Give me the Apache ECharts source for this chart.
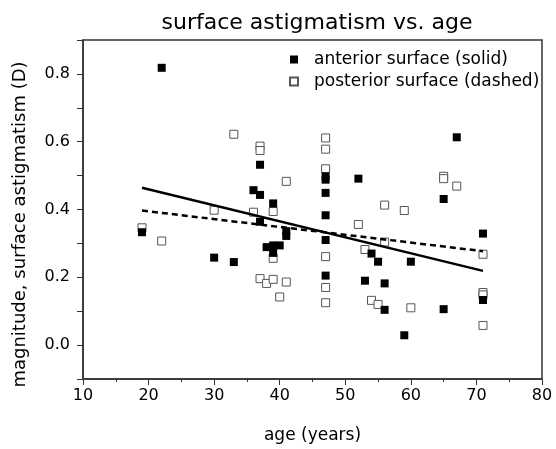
<!DOCTYPE html>
<html>
<head>
<meta charset="utf-8">
<script src="https://cdn.jsdelivr.net/npm/echarts@6/dist/echarts.min.js"></script>
<style>
  html, body { margin: 0; padding: 0; background: #fff; }
  #chart { width: 556px; height: 449px; }
</style>
</head>
<body>
<div id="chart"></div>
<script>
// 前表面（实心方块）: [年龄, 散光幅度]
const anterior = [
    [19, 0.333], [22, 0.818], [30, 0.258], [33, 0.245], [36, 0.457], [37, 0.532],
    [37, 0.443], [37, 0.364], [38, 0.289], [39, 0.418], [39, 0.294], [39, 0.272],
    [40, 0.294], [41, 0.336], [41, 0.322], [47, 0.498], [47, 0.488], [47, 0.449],
    [47, 0.383], [47, 0.31], [47, 0.205], [52, 0.491], [53, 0.19], [54, 0.27],
    [55, 0.246], [56, 0.182], [56, 0.104], [59, 0.029], [60, 0.246], [65, 0.431],
    [65, 0.106], [67, 0.613], [71, 0.329], [71, 0.133]
];
// 后表面（空心方块）
const posterior = [
    [19, 0.346], [22, 0.307], [30, 0.398], [33, 0.622], [36, 0.392], [37, 0.587],
    [37, 0.574], [37, 0.196], [38, 0.182], [39, 0.394], [39, 0.256], [39, 0.194],
    [40, 0.142], [41, 0.483], [41, 0.186], [47, 0.611], [47, 0.578], [47, 0.52],
    [47, 0.261], [47, 0.17], [47, 0.125], [52, 0.356], [53, 0.282], [54, 0.132],
    [55, 0.12], [56, 0.413], [56, 0.304], [59, 0.397], [60, 0.11], [65, 0.498],
    [65, 0.491], [67, 0.469], [71, 0.268], [71, 0.155], [71, 0.148], [71, 0.058]
];
// 拟合直线端点
const anteriorFit = [[19, 0.464], [71, 0.219]];
const posteriorFit = [[19, 0.397], [71, 0.277]];

const font = 'DejaVu Sans, sans-serif';
const chart = echarts.init(document.getElementById('chart'));
chart.setOption({
    animation: false,
    title: {
        text: 'surface astigmatism vs. age',
        left: 312, top: 7, textAlign: 'center',
        textStyle: { fontFamily: font, fontSize: 22, fontWeight: 'normal', color: '#000' }
    },
    legend: {
        data: ['anterior surface (solid)', 'posterior surface (dashed)'],
        orient: 'vertical', left: 284, top: 46,
        itemWidth: 8, itemHeight: 8, itemGap: 5,
        textStyle: { fontFamily: font, fontSize: 17, color: '#000', padding: [0, 0, 0, 11] }
    },
    grid: {
        left: 83, right: 14, top: 40, bottom: 68,
        show: true, borderColor: '#333', borderWidth: 1.5
    },
    xAxis: {
        type: 'value', min: 10, max: 80, interval: 10,
        name: 'age (years)', nameLocation: 'middle', nameGap: 48,
        nameTextStyle: { fontFamily: font, fontSize: 17, color: '#000' },
        axisLine: { onZero: false, lineStyle: { color: '#333', width: 1.5 } },
        axisTick: { length: 6, lineStyle: { color: '#333' } },
        minorTick: { show: true, splitNumber: 2, length: 3, lineStyle: { color: '#333' } },
        axisLabel: { fontFamily: font, fontSize: 16, color: '#000', margin: 9 },
        splitLine: { show: false }
    },
    yAxis: {
        type: 'value', min: -0.1, max: 0.9, interval: 0.1,
        name: 'magnitude, surface astigmatism (D)', nameLocation: 'middle', nameGap: 54,
        nameTextStyle: { fontFamily: font, fontSize: 18, color: '#000', padding: [0, 30, 0, 0] },
        axisLine: { lineStyle: { color: '#333', width: 1.5 } },
        axisTick: { length: 6, lineStyle: { color: '#333' } },
        axisLabel: {
            fontFamily: font, fontSize: 16, color: '#000', margin: 13,
            formatter: (v) => {
                const k = Math.round(v * 10);
                return k >= 0 && k % 2 === 0 ? (k / 10).toFixed(1) : '';
            }
        },
        splitLine: { show: false }
    },
    series: [
        {
            name: 'posterior surface (dashed)', type: 'scatter', symbol: 'rect', symbolSize: 8,
            data: posterior,
            itemStyle: { color: '#fff', borderColor: '#555', borderWidth: 1, opacity: 1 }
        },
        {
            name: 'anterior surface (solid)', type: 'scatter', symbol: 'rect', symbolSize: 8,
            data: anterior,
            itemStyle: { color: '#000', opacity: 1 }
        },
        {
            name: 'anterior fit', type: 'line', data: anteriorFit, symbol: 'none',
            lineStyle: { color: '#000', width: 2.5 }
        },
        {
            name: 'posterior fit', type: 'line', data: posteriorFit, symbol: 'none',
            lineStyle: { color: '#000', width: 2.5, type: [6, 4] }
        }
    ]
});
</script>
</body>
</html>
